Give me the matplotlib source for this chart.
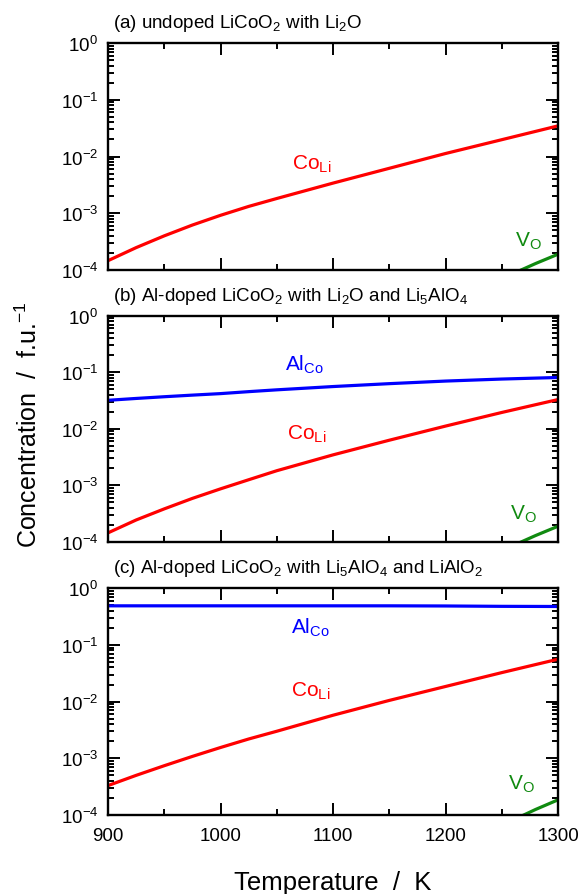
import numpy as np
import matplotlib
matplotlib.use("Agg")
import matplotlib.pyplot as plt
from matplotlib.ticker import LogLocator, LogFormatterMathtext, MultipleLocator, NullFormatter

plt.rcParams['font.family'] = ['Liberation Sans', 'DejaVu Sans']
plt.rcParams['mathtext.fontset'] = 'custom'
plt.rcParams['mathtext.rm'] = 'Liberation Sans'
plt.rcParams['mathtext.it'] = 'Liberation Sans:italic'
plt.rcParams['mathtext.bf'] = 'Liberation Sans:bold'

# temperatures (K)
temps = [900, 925, 950, 975, 1000, 1025, 1050, 1100, 1150, 1200, 1250, 1300]
temps_vo = [1262, 1280, 1300]

# (a) undoped LiCoO2 with Li2O
co_li_a = [1.46e-4, 2.48e-4, 4.0e-4, 6.2e-4, 9.2e-4, 1.32e-3, 1.82e-3, 3.4e-3, 6.2e-3, 1.13e-2, 1.98e-2, 3.47e-2]
v_o_a = [0.9e-4, 1.3e-4, 1.9e-4]

# (b) Al-doped with Li2O and Li5AlO4
al_co_b = [0.032, 0.0345, 0.037, 0.0395, 0.042, 0.0455, 0.049, 0.056, 0.063, 0.070, 0.076, 0.081]
co_li_b = [1.45e-4, 2.45e-4, 3.85e-4, 5.9e-4, 8.7e-4, 1.26e-3, 1.82e-3, 3.47e-3, 6.3e-3, 1.12e-2, 1.95e-2, 3.3e-2]
v_o_b = [0.9e-4, 1.3e-4, 1.9e-4]

# (c) Al-doped with Li5AlO4 and LiAlO2
al_co_c = [0.49, 0.49, 0.49, 0.49, 0.49, 0.49, 0.49, 0.49, 0.49, 0.487, 0.48, 0.477]
co_li_c = [3.3e-4, 5.0e-4, 7.4e-4, 1.08e-3, 1.55e-3, 2.19e-3, 3.0e-3, 5.75e-3, 1.05e-2, 1.85e-2, 3.25e-2, 5.6e-2]
v_o_c = [0.85e-4, 1.25e-4, 1.85e-4]

titles = [r"(a) undoped LiCoO$_2$ with Li$_2$O",
          r"(b) Al-doped LiCoO$_2$ with Li$_2$O and Li$_5$AlO$_4$",
          r"(c) Al-doped LiCoO$_2$ with Li$_5$AlO$_4$ and LiAlO$_2$"]

red = '#ff0000'
blue = '#0000ff'
green = '#108a10'

fig = plt.figure(figsize=(5.86, 8.95), dpi=100)
boxes = [[0.1843, 0.6972, 0.768, 0.2536],
         [0.1843, 0.3933, 0.768, 0.2528],
         [0.1843, 0.0883, 0.768, 0.2533]]
axes = [fig.add_axes(b) for b in boxes]

def style(ax, last):
	ax.set_yscale('log')
	ax.set_xlim(900, 1300)
	ax.set_ylim(1e-4, 1)
	ax.xaxis.set_major_locator(MultipleLocator(100))
	ax.xaxis.set_minor_locator(MultipleLocator(50))
	ax.yaxis.set_major_locator(LogLocator(base=10, numticks=100))
	ax.yaxis.set_minor_locator(LogLocator(base=10, subs=np.arange(2, 10) * 0.1, numticks=100))
	ax.yaxis.set_major_formatter(LogFormatterMathtext())
	ax.yaxis.set_minor_formatter(NullFormatter())
	ax.tick_params(which='both', direction='in', top=True, right=True, width=1.4)
	ax.tick_params(which='major', length=8.4, labelsize=13.5)
	ax.tick_params(which='minor', length=4.2)
	ax.tick_params(axis='y', pad=7)
	ax.tick_params(axis='x', pad=9)
	if not last:
		ax.tick_params(axis='x', labelbottom=False)
	for s in ax.spines.values():
		s.set_linewidth(1.7)

lw = 2.3
fs = 15
ax = axes[0]
ax.plot(temps, co_li_a, color=red, lw=lw)
ax.plot(temps_vo, v_o_a, color=green, lw=lw)
ax.text(1081, 7.5e-3, r"Co$_{\mathrm{Li}}$", color=red, fontsize=fs, ha='center', va='center')
ax.text(1274, 3.3e-4, r"V$_{\mathrm{O}}$", color=green, fontsize=fs, ha='center', va='center')

ax = axes[1]
ax.plot(temps, al_co_b, color=blue, lw=lw)
ax.plot(temps, co_li_b, color=red, lw=lw)
ax.plot(temps_vo, v_o_b, color=green, lw=lw)
ax.text(1075, 0.14, r"Al$_{\mathrm{Co}}$", color=blue, fontsize=fs, ha='center', va='center')
ax.text(1077, 8.5e-3, r"Co$_{\mathrm{Li}}$", color=red, fontsize=fs, ha='center', va='center')
ax.text(1269, 3.2e-4, r"V$_{\mathrm{O}}$", color=green, fontsize=fs, ha='center', va='center')

ax = axes[2]
ax.plot(temps, al_co_c, color=blue, lw=lw)
ax.plot(temps, co_li_c, color=red, lw=lw)
ax.plot(temps_vo, v_o_c, color=green, lw=lw)
ax.text(1080, 0.21, r"Al$_{\mathrm{Co}}$", color=blue, fontsize=fs, ha='center', va='center')
ax.text(1080, 0.016, r"Co$_{\mathrm{Li}}$", color=red, fontsize=fs, ha='center', va='center')
ax.text(1267, 3.6e-4, r"V$_{\mathrm{O}}$", color=green, fontsize=fs, ha='center', va='center')

for i, ax in enumerate(axes):
	style(ax, i == 2)
	ax.text(0.012, 1.0 + 20.7/227, titles[i], transform=ax.transAxes, fontsize=13.5,
		ha='left', va='center')

fig.text(0.049, 0.525, r"Concentration  /  f.u.$^{-1}$", rotation=90, fontsize=18,
	ha='center', va='center')
fig.text(0.568, 0.0134, "Temperature  /  K", fontsize=18.5, ha='center', va='center')

plt.savefig('out.png', dpi=100)
